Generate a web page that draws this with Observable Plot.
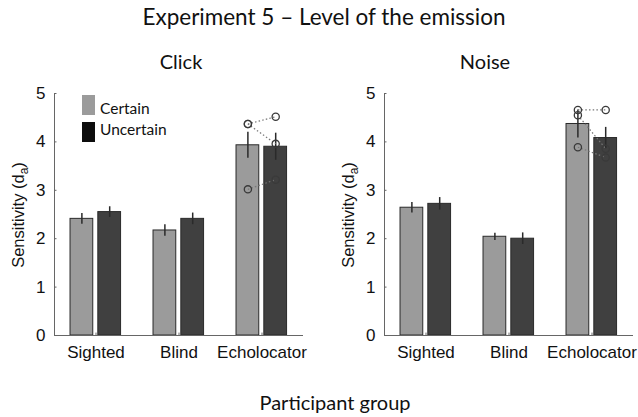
<!DOCTYPE html>
<html>
<head>
<meta charset="utf-8">
<script src="https://cdn.jsdelivr.net/npm/d3@7"></script>
<script src="https://cdn.jsdelivr.net/npm/@observablehq/plot@0.6"></script>
<style>
  html, body { margin: 0; padding: 0; background: #fff; }
  #root { position: relative; width: 638px; height: 417px; overflow: hidden; background: #fff; }
  .t { position: absolute; white-space: nowrap; font-family: Lato, "Open Sans", sans-serif; color: #111; line-height: 1; }
  .ylab { position: absolute; white-space: nowrap; font-family: "Liberation Sans", Arial, sans-serif; font-size: 16.5px; color: #111; transform: translate(-50%, -50%) rotate(-90deg); line-height: 1; }
  .ylab sub { font-size: 12px; vertical-align: -4px; }
  .sw { position: absolute; width: 13px; height: 20px; }
  .panel { position: absolute; top: 80px; }
</style>
</head>
<body>
<div id="root"></div>
<script>
// ---- Data ----
const groups = ["Sighted", "Blind", "Echolocator"];
const conditions = ["Certain", "Uncertain"];
const yTicks = [0, 1, 2, 3, 4, 5];

const clickCertain = [2.41, 2.17, 3.93];
const clickUncertain = [2.55, 2.41, 3.90];
const clickCertainSE = [0.11, 0.12, 0.27];
const clickUncertainSE = [0.11, 0.12, 0.28];

const noiseCertain = [2.64, 2.04, 4.37];
const noiseUncertain = [2.72, 2.00, 4.08];
const noiseCertainSE = [0.11, 0.075, 0.29];
const noiseUncertainSE = [0.13, 0.12, 0.22];

// individual echolocators (Certain -> Uncertain)
const echoClickCertain = [4.37, 4.37, 3.02];
const echoClickUncertain = [4.52, 3.96, 3.22];
const echoNoiseCertain = [4.66, 4.55, 3.89];
const echoNoiseUncertain = [4.66, 3.86, 3.68];

const condColors = {Certain: "#9b9b9b", Uncertain: "#404040"};
const condOffset = {Certain: -0.17, Uncertain: 0.165};
const halfBar = 0.137;

function panel(certain, uncertain, certainSE, uncertainSE, echoC, echoU, opts) {
  const rows = groups.flatMap((g, i) => [
    {g, i: i + 1, cond: "Certain", v: certain[i], se: certainSE[i]},
    {g, i: i + 1, cond: "Uncertain", v: uncertain[i], se: uncertainSE[i]}
  ]);
  const echoIdx = groups.indexOf("Echolocator") + 1;
  const links = echoC.map((c, k) => ({c, u: echoU[k]}));
  const pts = [
    ...echoC.map(v => ({cond: "Certain", v})),
    ...echoU.map(v => ({cond: "Uncertain", v}))
  ];
  const px = d => d.i + condOffset[d.cond];
  return Plot.plot({
    width: opts.width,
    height: 285,
    marginTop: 13,
    marginBottom: 30,
    marginLeft: 54,
    marginRight: opts.marginRight,
    x: {domain: [0.5, 3.5], axis: null},
    y: {domain: [0, 5], axis: null},
    style: {fontFamily: "'Liberation Sans', Arial, sans-serif", fontSize: "17px", color: "#111", background: "transparent"},
    marks: [
      Plot.rect(rows, {
        x1: d => px(d) - halfBar, x2: d => px(d) + halfBar,
        y1: 0, y2: "v",
        fill: d => condColors[d.cond], stroke: "#2a2a2a", strokeWidth: 1
      }),
      Plot.ruleX(rows, {x: px, y1: d => d.v - d.se, y2: d => d.v + d.se, stroke: "#2a2a2a", strokeWidth: 1.5}),
      Plot.link(links, {
        x1: () => echoIdx + condOffset.Certain, y1: "c",
        x2: () => echoIdx + condOffset.Uncertain, y2: "u",
        stroke: "#777", strokeWidth: 1.2, strokeDasharray: "1.5,2.2"
      }),
      Plot.dot(pts, {x: d => echoIdx + condOffset[d.cond], y: "v", r: 3.6, stroke: "#3a3a3a", strokeWidth: 1.3, fill: "none"}),
      Plot.ruleY([0], {stroke: "#666", strokeWidth: 1}),
      Plot.ruleX([0.5], {y1: 0, y2: 5, stroke: "#666", strokeWidth: 1}),
      Plot.ruleX([1, 2, 3], {y1: 0, y2: 0.05, stroke: "#666"}),
      Plot.ruleY(yTicks, {x1: 0.5, x2: 0.53, stroke: "#666"}),
      Plot.axisX([1, 2, 3], {tickFormat: i => groups[i - 1], tickSize: 0, tickPadding: 10, label: null, fontSize: 17}),
      Plot.axisY(yTicks, {tickSize: 0, tickPadding: 9, label: null, fontSize: 17})
    ]
  });
}

const root = document.getElementById("root");
function addText(cls, text, css) {
  const el = document.createElement("div");
  el.className = cls;
  el.innerHTML = text;
  Object.assign(el.style, css);
  root.appendChild(el);
  return el;
}

const left = panel(clickCertain, clickUncertain, clickCertainSE, clickUncertainSE, echoClickCertain, echoClickUncertain, {width: 319, marginRight: 16});
left.classList.add("panel"); left.style.left = "0px";
root.appendChild(left);

const right = panel(noiseCertain, noiseUncertain, noiseCertainSE, noiseUncertainSE, echoNoiseCertain, echoNoiseUncertain, {width: 308, marginRight: 5});
right.classList.add("panel"); right.style.left = "330px";
root.appendChild(right);

// titles
addText("t", "Experiment 5 – Level of the emission", {fontSize: "22.5px", top: "6px", left: "324px", transform: "translateX(-50%)"});
addText("t", "Click", {fontSize: "20px", top: "51px", left: "181px", transform: "translateX(-50%)"});
addText("t", "Noise", {fontSize: "20px", top: "51px", left: "485px", transform: "translateX(-50%)"});
addText("t", "Participant group", {fontSize: "20px", top: "392px", left: "335px", transform: "translateX(-50%)"});

// y labels
addText("ylab", "Sensitivity (d<sub>a</sub>)", {left: "20px", top: "215px"});
addText("ylab", "Sensitivity (d<sub>a</sub>)", {left: "350px", top: "215px"});

// legend
conditions.forEach((c, k) => {
  const sw = document.createElement("div");
  sw.className = "sw";
  sw.style.left = "82px";
  sw.style.top = (95 + k * 27) + "px";
  sw.style.background = c === "Certain" ? "#9b9b9b" : "#0d0d0d";
  root.appendChild(sw);
  addText("t", c, {fontSize: "15.5px", left: "100px", top: (101 + k * 21) + "px"});
});
</script>
</body>
</html>
